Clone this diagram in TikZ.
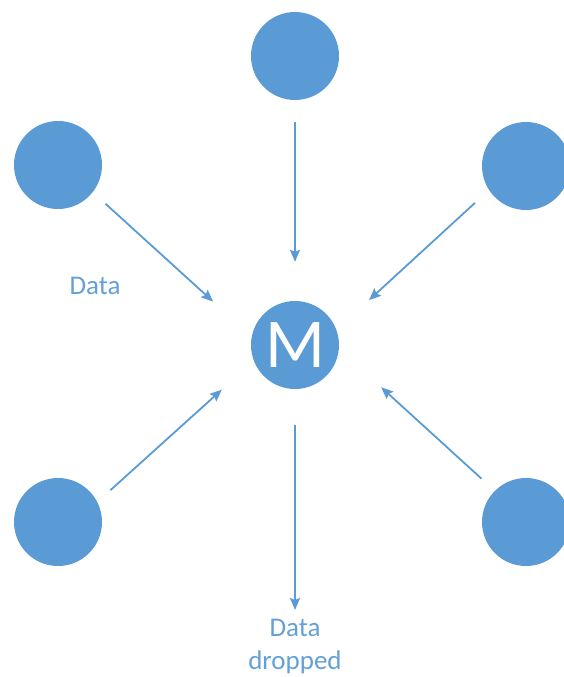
\documentclass[tikz,border=0pt]{standalone}
\usepackage{fontspec}
\setmainfont{Carlito}
\usetikzlibrary{arrows.meta}
\definecolor{nodeblue}{HTML}{5B9BD5}
\definecolor{textblue}{HTML}{64A0D8}
\tikzset{
  dot/.style={circle, fill=nodeblue, draw=none, inner sep=0pt, minimum size=88pt},
  arr/.style={draw=nodeblue, line width=1.8pt, -{Stealth[length=12pt,width=10pt,inset=2pt]}},
  lbl/.style={text=textblue, font=\fontsize{27}{33}\selectfont, align=center, inner sep=0pt}
}
\begin{document}
\begin{tikzpicture}[x=1pt,y=-1pt]
\useasboundingbox (0,0) rectangle (563,677);
\node[dot] (t)  at (295,56) {};
\node[dot] (tl) at (58,165) {};
\node[dot] (tr) at (526,166) {};
\node[dot] (bl) at (58,522) {};
\node[dot] (br) at (526,522) {};
\node[dot, text=white, font=\fontsize{70}{74}\selectfont] (m) at (295,345) {M};
\coordinate (d) at (295,610);

\draw[arr, shorten <=17pt, shorten >=52pt] (tl.-38.7) -- (m.169.7);
\draw[arr, shorten <=22pt, shorten >=39pt] (t.-90) -- (m.90);
\draw[arr, shorten <=19pt, shorten >=44pt] (tr.213.1) -- (m.20.1);
\draw[arr, shorten <=17.5pt, shorten >=43pt] (bl.27.6) -- (m.201.9);
\draw[arr, shorten <=18pt, shorten >=57pt] (br.135.7) -- (m.-5.9);
\draw[arr, shorten <=36pt] (m.-90) -- (d);

\node[lbl] (l1) at (95,286) {Data};
\node[lbl, anchor=north] (l2) at ([yshift=-9pt]d) {Data\\dropped};
\end{tikzpicture}
\end{document}
